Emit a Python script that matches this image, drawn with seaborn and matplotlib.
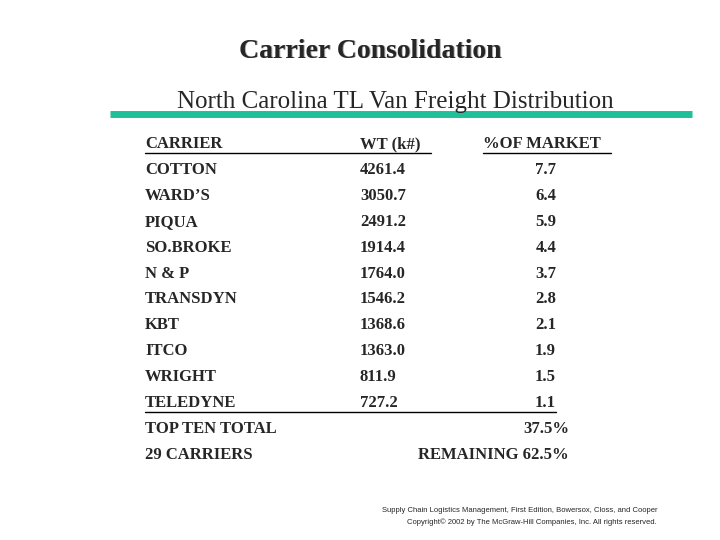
import matplotlib
matplotlib.use("Agg")
import matplotlib.pyplot as plt
import seaborn as sns

carriers = ["COTTON", "WARD\u2019S", "PIQUA", "SO.BROKE", "N & P", "TRANSDYN", "KBT", "ITCO", "WRIGHT", "TELEDYNE"]
weights = ["4261.4", "3050.7", "2491.2", "1914.4", "1764.0", "1546.2", "1368.6", "1363.0", "811.9", "727.2"]
shares = ["7.7", "6.4", "5.9", "4.4", "3.7", "2.8", "2.1", "1.9", "1.5", "1.1"]

sns.set_theme(style="white")
plt.rcParams['font.family'] = ['Liberation Serif', 'DejaVu Serif']

fig = plt.figure(figsize=(7.2, 5.4), dpi=100)
ax = fig.add_axes([0, 0, 1, 1])
ax.set_xlim(0, 720); ax.set_ylim(540, 0); ax.axis("off")

ax.text(371, 52, "Carrier Consolidation", ha="center", va="center", fontsize=20, fontweight="bold", color="#b0b0b0")
ax.text(370, 51, "Carrier Consolidation", ha="center", va="center", fontsize=20, fontweight="bold")
ax.text(395, 102, "North Carolina TL Van Freight Distribution", ha="center", va="center", fontsize=18)
ax.plot([110, 692], [114, 114], color="#1fbf9a", lw=5, solid_capstyle="butt")

fs = 12
y0, dy = 144, 25.9
ax.text(145, y0, "CARRIER", ha="left", va="center", fontsize=fs, fontweight="bold")
ax.text(360, y0, "WT (k#)", ha="left", va="center", fontsize=fs, fontweight="bold")
ax.text(483, y0, "%OF MARKET", ha="left", va="center", fontsize=fs, fontweight="bold")
ax.plot([145, 431], [153, 153], color="black", lw=1)
ax.plot([483, 611], [153, 153], color="black", lw=1)
for i, (c, w, s) in enumerate(zip(carriers, weights, shares)):
    y = y0 + dy * (i + 1)
    ax.text(145, y, c, ha="left", va="center", fontsize=fs, fontweight="bold")
    ax.text(360, y, w, ha="left", va="center", fontsize=fs, fontweight="bold")
    ax.text(556, y, s, ha="right", va="center", fontsize=fs, fontweight="bold")
yl = y0 + dy * 10 + 9
ax.plot([145, 556], [yl, yl], color="black", lw=1)
yt = y0 + dy * 11
ax.text(145, yt, "TOP TEN TOTAL", ha="left", va="center", fontsize=fs, fontweight="bold")
ax.text(569, yt, "37.5%", ha="right", va="center", fontsize=fs, fontweight="bold")
yr = y0 + dy * 12
ax.text(145, yr, "29 CARRIERS", ha="left", va="center", fontsize=fs, fontweight="bold")
ax.text(569, yr, "REMAINING 62.5%", ha="right", va="center", fontsize=fs, fontweight="bold")

ax.text(657, 511, "Supply Chain Logistics Management, First Edition, Bowersox, Closs, and Cooper", ha="right", va="center", fontsize=5.5, family="Liberation Sans")
ax.text(657, 522, "Copyright\u00a9 2002 by The McGraw-Hill Companies, Inc. All rights reserved.", ha="right", va="center", fontsize=5.5, family="Liberation Sans")

fig.savefig("out.png", dpi=100, facecolor="white")
